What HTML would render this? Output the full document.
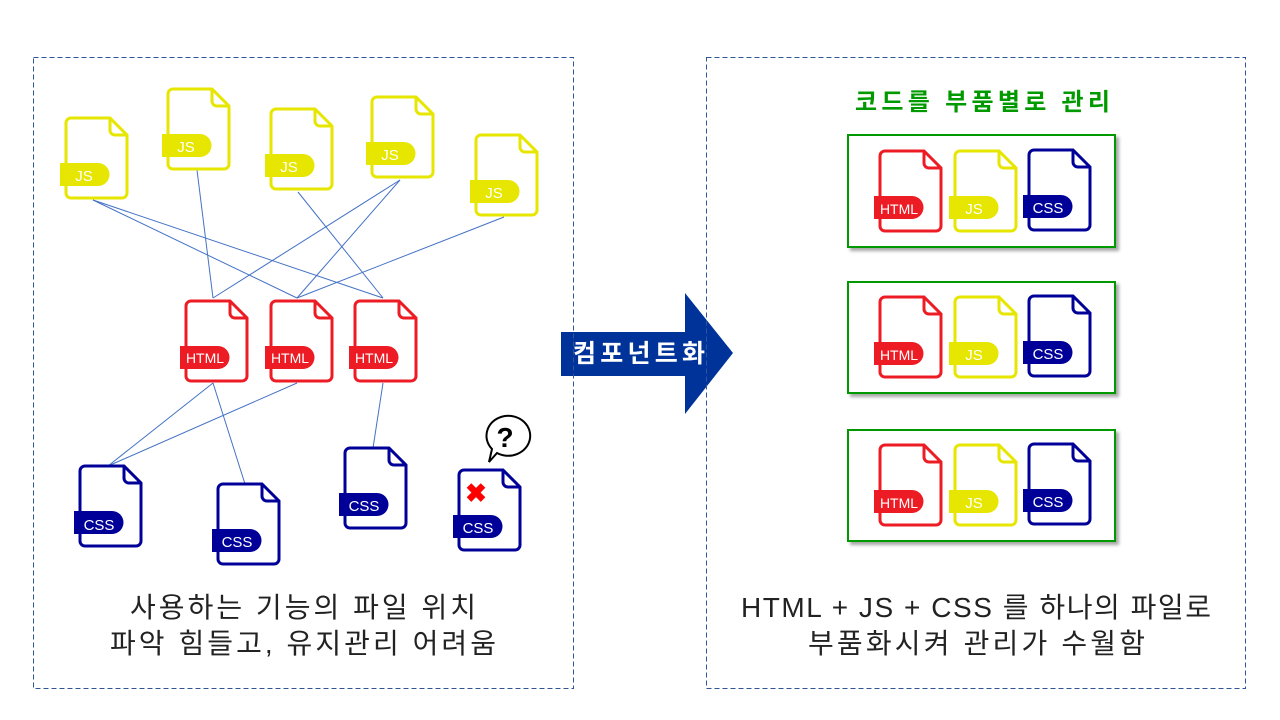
<!DOCTYPE html>
<html><head><meta charset="utf-8"><style>
body{margin:0;background:#fff;}
svg{display:block;}
.t{font-family:"Liberation Sans","Noto Sans CJK KR",sans-serif;}
.lbl{font-family:"Liberation Sans",sans-serif;font-size:15px;fill:#fff;text-anchor:middle;}
</style></head><body>
<svg width="1280" height="720" viewBox="0 0 1280 720" xmlns="http://www.w3.org/2000/svg">
<defs>
<g id="f">
<path d="M5,0 H44 L61,17 V75 a5,5 0 0 1 -5,5 H5 a5,5 0 0 1 -5,-5 V5 a5,5 0 0 1 5,-5 Z" fill="#fff" stroke="currentColor" stroke-width="3"/>
<path d="M44,0 V12 a5,5 0 0 0 5,5 H61" fill="none" stroke="currentColor" stroke-width="3"/>
<path d="M-6,45 H32 a11.5,11.5 0 0 1 0,23 H-6 Z" fill="currentColor"/>
</g>
<filter id="sh" x="-5%" y="-5%" width="115%" height="120%"><feDropShadow dx="3" dy="3" stdDeviation="1.5" flood-color="#000" flood-opacity="0.35"/></filter>
</defs>

<g stroke="#4472c4" stroke-width="1" fill="none">
<line x1="93" y1="200" x2="297" y2="298"/>
<line x1="93" y1="200" x2="383" y2="298"/>
<line x1="197" y1="170" x2="213" y2="298"/>
<line x1="298" y1="192" x2="383" y2="298"/>
<line x1="400" y1="180" x2="213" y2="298"/>
<line x1="400" y1="180" x2="297" y2="298"/>
<line x1="504" y1="217" x2="297" y2="298"/>
<line x1="213" y1="383" x2="108" y2="466"/>
<line x1="213" y1="383" x2="245" y2="484"/>
<line x1="297" y1="383" x2="108" y2="466"/>
<line x1="383" y1="383" x2="373" y2="448"/>
</g>

<g color="#e6e600">
<use href="#f" x="66" y="118"/><use href="#f" x="168" y="89"/><use href="#f" x="271" y="109"/><use href="#f" x="372" y="97"/><use href="#f" x="476" y="135"/>
</g>
<text class="lbl" x="84" y="181">JS</text><text class="lbl" x="186" y="152">JS</text><text class="lbl" x="289" y="172">JS</text><text class="lbl" x="390" y="160">JS</text><text class="lbl" x="494" y="198">JS</text>
<g color="#ed1c24">
<use href="#f" x="186" y="301"/><use href="#f" x="271" y="301"/><use href="#f" x="355" y="301"/>
</g>
<text class="lbl" x="205" y="363" style="font-size:14px">HTML</text>
<text class="lbl" x="290" y="363" style="font-size:14px">HTML</text>
<text class="lbl" x="374" y="363" style="font-size:14px">HTML</text>
<g color="#000099">
<use href="#f" x="80" y="466"/><use href="#f" x="218" y="484"/><use href="#f" x="345" y="448"/><use href="#f" x="459" y="470"/>
</g>
<text class="lbl" x="99" y="530">CSS</text>
<text class="lbl" x="237" y="547">CSS</text>
<text class="lbl" x="364" y="511">CSS</text>
<text class="lbl" x="478" y="533">CSS</text>
<text x="476" y="502" font-size="26" font-weight="bold" fill="#ff0000" text-anchor="middle" class="t">✖</text>
<path d="M505,416 a22,20 0 1 1 -8,37 L489,462 L492,449 a22,20 0 0 1 13,-33 Z" fill="#fff" stroke="#000" stroke-width="2"/>
<text x="505" y="447" font-size="28" font-weight="bold" text-anchor="middle" class="t">?</text>

<text class="t" x="130" y="617" font-size="28" fill="#222" textLength="346" lengthAdjust="spacing">사용하는 기능의 파일 위치</text>
<text class="t" x="110" y="653" font-size="28" fill="#222" textLength="386" lengthAdjust="spacing">파악 힘들고, 유지관리 어려움</text>

<path d="M561,332 H685 V293 L733,353 L685,414 V376 H561 Z" fill="#003399"/>
<text class="t" x="573" y="362" font-size="25" font-weight="bold" fill="#fff" textLength="132" lengthAdjust="spacing">컴포넌트화</text>

<text class="t" x="855" y="110" font-size="24" font-weight="bold" fill="#009900" textLength="255" lengthAdjust="spacing">코드를 부품별로 관리</text>
<g fill="#fff" stroke="#009900" stroke-width="2" filter="url(#sh)">
<rect x="848" y="135" width="267" height="112"/>
<rect x="848" y="282" width="267" height="111"/>
<rect x="848" y="430" width="267" height="111"/>
</g>
<g color="#ed1c24"><use href="#f" x="880" y="151"/><use href="#f" x="880" y="297"/><use href="#f" x="880" y="445"/></g>
<g color="#e6e600"><use href="#f" x="955" y="151"/><use href="#f" x="955" y="297"/><use href="#f" x="955" y="445"/></g>
<g color="#000099"><use href="#f" x="1029" y="150"/><use href="#f" x="1029" y="296"/><use href="#f" x="1029" y="444"/></g>
<text class="lbl" x="899" y="214" style="font-size:14px">HTML</text><text class="lbl" x="974" y="214">JS</text><text class="lbl" x="1048" y="213">CSS</text>
<text class="lbl" x="899" y="360" style="font-size:14px">HTML</text><text class="lbl" x="974" y="360">JS</text><text class="lbl" x="1048" y="359">CSS</text>
<text class="lbl" x="899" y="508" style="font-size:14px">HTML</text><text class="lbl" x="974" y="508">JS</text><text class="lbl" x="1048" y="507">CSS</text>

<text class="t" x="741" y="617" font-size="28" fill="#222" textLength="470" lengthAdjust="spacing">HTML + JS + CSS 를 하나의 파일로</text>
<text class="t" x="808" y="653" font-size="28" fill="#222" textLength="337" lengthAdjust="spacing">부품화시켜 관리가 수월함</text>

<g fill="none" stroke="#2f5597" stroke-width="1" stroke-dasharray="5,3">
<rect x="33.5" y="57.5" width="540" height="631"/>
<rect x="706.5" y="57.5" width="539" height="631"/>
</g>
</svg>
</body></html>
